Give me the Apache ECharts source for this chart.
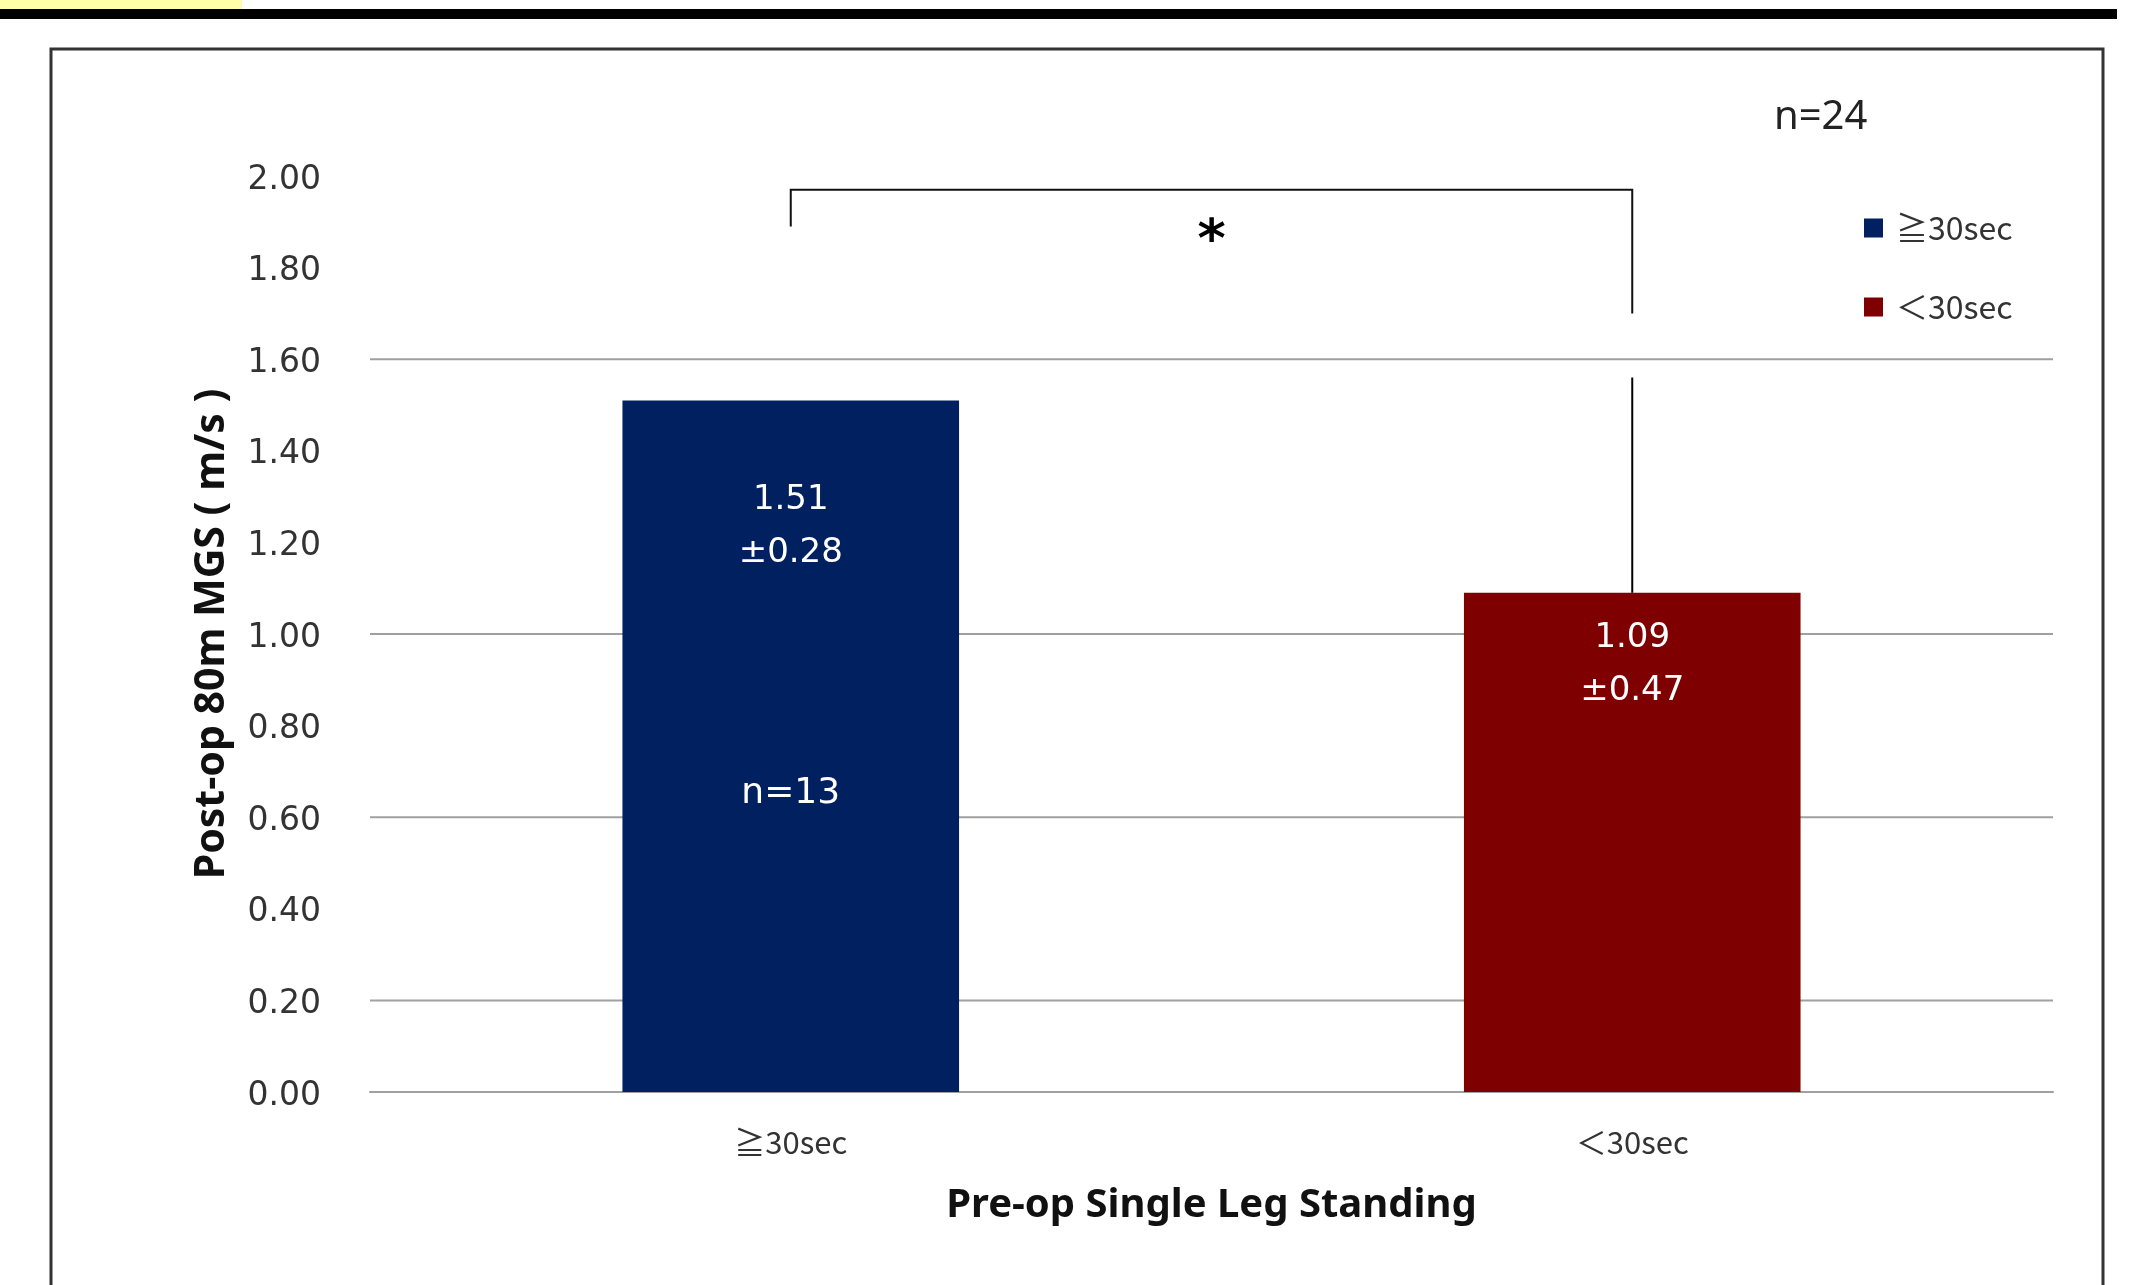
<!DOCTYPE html>
<html><head><meta charset="utf-8">
<script src="https://cdn.jsdelivr.net/npm/echarts@6/dist/echarts.min.js"></script>
<style>html,body{margin:0;padding:0;background:#fff}#c{width:2132px;height:1285px}</style>
</head><body><div id="c"></div>
<script>
// ---- data ----
const categories = ['≧30sec', '＜30sec'];
const seriesNames = ['≧30sec', '＜30sec'];
const means = [1.51, 1.09];
const sds = [0.28, 0.47];
const groupN = ['n=13', ''];
const totalN = 'n=24';
const showErrorBar = [false, true];
const gridValues = [0, 0.2, 0.6, 1.0, 1.6];
const bracketLevels = [1.89, 1.97, 1.70]; // left leg end, top, right leg end
const significance = '*';
const yAxisTitle = 'Post-op 80m MGS ( m/s )';
const xAxisTitle = 'Pre-op Single Leg Standing';

const colors = ['#00205f', '#7f0000'];
const labelDistance = [73, 19];

function barLabel(i) {
  return {
    show: true,
    position: 'insideTop',
    distance: labelDistance[i],
    formatter: function () {
      let s = '{v|' + means[i].toFixed(2) + '}\n{v|±' + sds[i].toFixed(2) + '}';
      if (groupN[i]) s += '\n{n|' + groupN[i] + '}';
      return s;
    },
    rich: {
      v: { color: '#fff', fontSize: 34, fontFamily: 'DejaVu Sans', lineHeight: 53, align: 'center' },
      n: { color: '#fff', fontSize: 36, fontFamily: 'DejaVu Sans', lineHeight: 429, align: 'center' }
    }
  };
}

const barSeries = seriesNames.map(function (name, i) {
  return {
    name: name,
    type: 'bar',
    barWidth: '40%',
    barGap: '-100%',
    z: 3,
    itemStyle: { color: colors[i] },
    data: categories.map(function (c, j) {
      return j === i ? { value: means[i], label: barLabel(i) } : '-';
    })
  };
});

const chart = echarts.init(document.getElementById('c'), null, { renderer: 'canvas' });
chart.setOption({
  backgroundColor: '#fff',
  animation: false,
  title: {
    text: totalN, left: 1769, top: 93,
    textStyle: { fontSize: 40, fontWeight: 'normal', color: '#222', fontFamily: 'Noto Sans' }
  },
  legend: {
    orient: 'vertical', left: 1859, top: 207,
    itemWidth: 19, itemHeight: 19, itemGap: 47, icon: 'rect',
    data: seriesNames,
    textStyle: { fontSize: 32, color: '#333', fontFamily: 'Noto Sans CJK JP', padding: [0, 0, 0, 8] }
  },
  grid: { left: 370, right: 79, top: 176, bottom: 193, containLabel: false },
  xAxis: {
    type: 'category', data: categories,
    axisTick: { show: false },
    axisLine: { lineStyle: { color: '#a0a0a0', width: 2 } },
    axisLabel: { fontSize: 31, color: '#333', fontFamily: 'Noto Sans CJK JP', margin: 35 },
    name: xAxisTitle, nameLocation: 'middle', nameGap: 94,
    nameTextStyle: { fontSize: 40, fontWeight: 'bold', color: '#111', fontFamily: "'Liberation Sans Narrow', 'Noto Sans', sans-serif" }
  },
  yAxis: {
    type: 'value', min: 0, max: 2, interval: 0.2,
    axisLine: { show: false }, axisTick: { show: false }, splitLine: { show: false },
    axisLabel: { fontSize: 33, color: '#333', fontFamily: 'DejaVu Sans', margin: 49,
      verticalAlign: 'top', lineHeight: 8,
      formatter: function (v) { return v.toFixed(2); } },
    name: yAxisTitle, nameLocation: 'middle', nameGap: 137, nameRotate: 90,
    nameTextStyle: { fontSize: 41, fontWeight: 'bold', color: '#111', fontFamily: "'Liberation Sans Narrow', 'Noto Sans', sans-serif" }
  },
  series: [
    {
      type: 'custom', name: 'grid', z: 1, silent: true,
      data: gridValues.map(function (v) { return [0, v]; }),
      encode: { x: 0, y: 1 },
      renderItem: function (params, api) {
        const y = api.coord([0, api.value(1)])[1];
        const cs = params.coordSys;
        return { type: 'line', shape: { x1: cs.x, y1: y, x2: cs.x + cs.width, y2: y },
          style: { stroke: '#a0a0a0', lineWidth: 2 } };
      }
    }
  ].concat(barSeries).concat([
    {
      type: 'custom', name: 'err', z: 4, silent: true,
      data: categories.map(function (c, i) { return [i, means[i], sds[i]]; }).filter(function (d) { return showErrorBar[d[0]]; }),
      encode: { x: 0, y: 1 },
      renderItem: function (params, api) {
        const i = api.value(0);
        const p1 = api.coord([i, api.value(1)]);
        const p2 = api.coord([i, api.value(1) + api.value(2)]);
        return { type: 'line', shape: { x1: p1[0], y1: p1[1], x2: p2[0], y2: p2[1] },
          style: { stroke: '#000', lineWidth: 2 } };
      }
    },
    {
      type: 'custom', name: 'bracket', z: 4, silent: true,
      data: [[0, bracketLevels[0], bracketLevels[1], bracketLevels[2]]],
      encode: { x: 0, y: 2 },
      renderItem: function (params, api) {
        const a = api.coord([0, api.value(1)]);
        const b = api.coord([0, api.value(2)]);
        const c = api.coord([1, api.value(2)]);
        const d = api.coord([1, api.value(3)]);
        return {
          type: 'group',
          children: [
            { type: 'polyline', shape: { points: [a, b, c, d] }, style: { stroke: '#111', lineWidth: 2, fill: null } },
            { type: 'text', x: (b[0] + c[0]) / 2, y: b[1] + 53,
              style: { text: significance, fontSize: 54, fontWeight: 'bold', fill: '#000', align: 'center', verticalAlign: 'middle', fontFamily: 'DejaVu Sans' } }
          ]
        };
      }
    }
  ]),
  graphic: [
    { type: 'rect', shape: { x: 0, y: 0, width: 242, height: 9 }, style: { fill: '#ffffa8' }, z: 0 },
    { type: 'rect', shape: { x: 0, y: 9, width: 2117, height: 10 }, style: { fill: '#000' }, z: 0 },
    { type: 'rect', shape: { x: 51, y: 49, width: 2052, height: 1300 }, style: { fill: null, stroke: '#333', lineWidth: 3 }, z: 0 }
  ]
});
</script></body></html>
